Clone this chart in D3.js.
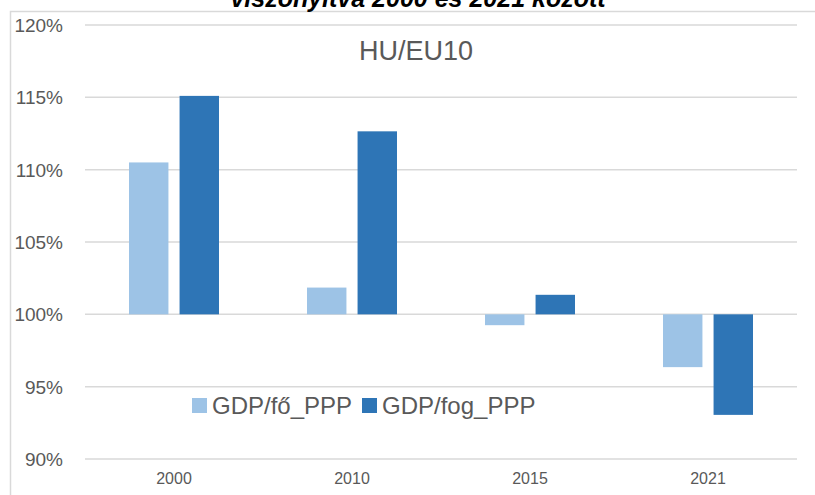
<!DOCTYPE html>
<html><head><meta charset="utf-8">
<script src="https://cdn.jsdelivr.net/npm/d3@7"></script>
<style>html,body{margin:0;padding:0;background:#fff;}svg{display:block;}</style>
</head><body>
<svg id="c" width="815" height="495"></svg>
<script>
const categories = ["2000", "2010", "2015", "2021"];
const seriesNames = ["GDP/fő_PPP", "GDP/fog_PPP"];
const gdpPerCapita = [110.5, 101.85, 99.25, 96.35];
const gdpPerEmployed = [115.1, 112.65, 101.35, 93.05];
const yTicks = [90, 95, 100, 105, 110, 115, 120];
const chartTitle = "HU/EU10";
const cutTitle = "viszonyítva 2000 és 2021 között";
const colors = ["#9dc3e6", "#2e75b6"];

(function () {
const svg = d3.select("#c");
const font = "'Liberation Sans', Arial, sans-serif";
const mLeft = 85, mRight = 797, mTop = 25, mBottom = 459;

// outer border
svg.append("rect").attr("x", 10.5).attr("y", 11.5).attr("width", 810).attr("height", 500)
  .attr("fill", "none").attr("stroke", "#d9d9d9").attr("stroke-width", 1.5);

// cut-off title (partly above the visible area, as in the reference)
svg.append("text").attr("x", 418).attr("y", 7).attr("text-anchor", "middle")
  .attr("font-family", font).attr("font-weight", "bold").attr("font-style", "italic")
  .attr("font-size", 25).attr("fill", "#000").text(cutTitle);

const y = d3.scaleLinear().domain([90, 120]).range([mBottom, mTop]);
const x0 = d3.scaleBand().domain(categories).range([mLeft, mRight]);
const x1 = d3.scaleBand().domain(seriesNames).range([44, 134]).paddingInner(0.22);

// gridlines
svg.append("g").selectAll("line").data(yTicks).join("line")
  .attr("x1", mLeft).attr("x2", mRight)
  .attr("y1", d => y(d)).attr("y2", d => y(d))
  .attr("stroke", "#d9d9d9").attr("stroke-width", 1.5);

// y labels
svg.append("g").selectAll("text").data(yTicks).join("text")
  .attr("x", 63).attr("y", d => y(d) + 7).attr("text-anchor", "end")
  .attr("font-family", font).attr("font-size", 19).attr("fill", "#595959")
  .text(d => d + "%");

// bars
const rows = categories.map((c, i) => ({c, vals: [gdpPerCapita[i], gdpPerEmployed[i]]}));
const g = svg.append("g");
rows.forEach(r => {
  r.vals.forEach((v, j) => {
    g.append("rect")
      .attr("x", x0(r.c) + x1(seriesNames[j]))
      .attr("width", x1.bandwidth())
      .attr("y", y(Math.max(v, 100)))
      .attr("height", Math.abs(y(v) - y(100)))
      .attr("fill", colors[j]);
  });
});

// x labels
svg.append("g").selectAll("text").data(categories).join("text")
  .attr("x", d => x0(d) + x0.bandwidth() / 2).attr("y", 484).attr("text-anchor", "middle")
  .attr("font-family", font).attr("font-size", 16).attr("fill", "#595959").text(d => d);

// chart title
svg.append("text").attr("x", 416).attr("y", 60).attr("text-anchor", "middle")
  .attr("font-family", font).attr("font-size", 27).attr("fill", "#595959").text(chartTitle);

// legend
const legX = [192, 362];
seriesNames.forEach((n, j) => {
  svg.append("rect").attr("x", legX[j]).attr("y", 398).attr("width", 15).attr("height", 15).attr("fill", colors[j]);
  svg.append("text").attr("x", legX[j] + 20).attr("y", 414)
    .attr("font-family", font).attr("font-size", 24).attr("fill", "#595959").text(n);
});
})();
</script>
</body></html>
